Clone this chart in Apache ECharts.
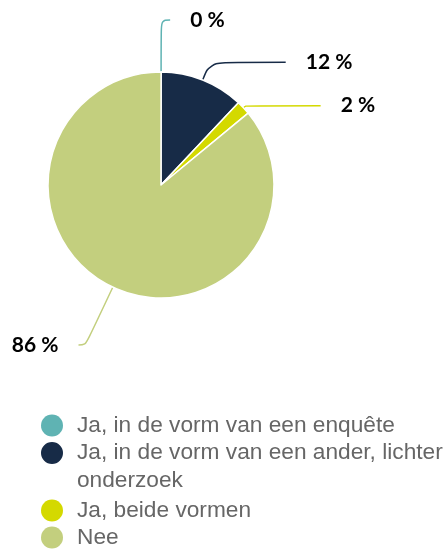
<!DOCTYPE html>
<html>
<head>
<meta charset="utf-8">
<script src="https://cdn.jsdelivr.net/npm/echarts@6/dist/echarts.min.js"></script>
<style>
    html, body { margin: 0; padding: 0; background: #fff; }
    #chart { width: 446px; height: 549px; }
</style>
</head>
<body>
<div id="chart"></div>
<script>
var categories = [
    'Ja, in de vorm van een enquête',
    'Ja, in de vorm van een ander, lichter onderzoek',
    'Ja, beide vormen',
    'Nee'
];
var percentages = [0, 12, 2, 86];
var colors = ['#5fb3b3', '#172b47', '#d4d900', '#c3cf7e'];

// per slice label line lengths, so labels sit where the reference has them
var lineLengths = [
    { length: 52, length2: 9 },
    { length: 19, length2: 76 },
    { length: 3, length2: 75 },
    { length: 64, length2: 7 }
];

// icon with the circle at the top so it lines up with the first text line
var topCircleIcon = 'path://M0,11A11,11,0,1,1,22,11A11,11,0,1,1,0,11ZM11,50L11.01,50Z';

var legendText = {
    color: '#666',
    fontFamily: '"Liberation Sans", Arial, sans-serif',
    fontSize: 22.7
};

// one legend per row, the rows do not share a regular step
var makeLegend = function (item, top, extra) {
    var legend = {
        orient: 'vertical',
        left: 41,
        top: top,
        padding: 0,
        itemWidth: 40,
        itemHeight: 22,
        icon: 'circle',
        itemStyle: { borderWidth: 0 },
        selectedMode: false,
        textStyle: legendText,
        data: [item]
    };
    return Object.assign(legend, extra || {});
};

var chart = echarts.init(document.getElementById('chart'), null, { renderer: 'canvas' });

var option = {
    animation: false,
    color: colors,
    legend: [
        makeLegend(categories[0], 414),
        makeLegend({ name: categories[1], icon: topCircleIcon }, 439, {
            itemHeight: 50,
            textStyle: Object.assign({}, legendText, {
                width: 392,
                overflow: 'break',
                lineHeight: 28
            })
        }),
        makeLegend(categories[2], 499),
        makeLegend(categories[3], 526)
    ],
    series: [{
        type: 'pie',
        center: [161, 185],
        radius: 113,
        // a hair off 90 so the 0 % slice puts its label on the right
        startAngle: 89.95,
        clockwise: true,
        avoidLabelOverlap: true,
        itemStyle: { borderColor: '#fff', borderWidth: 1.5 },
        label: {
            color: '#000',
            fontFamily: 'Lato, sans-serif',
            fontWeight: 'bold',
            fontSize: 21,
            distanceToLabelLine: 20,
            formatter: function (p) { return p.value + ' %'; }
        },
        labelLine: { smooth: 0.4, lineStyle: { width: 1.5 } },
        emphasis: { disabled: true },
        data: categories.map(function (name, i) {
            return {
                name: name,
                value: percentages[i],
                labelLine: lineLengths[i]
            };
        })
    }]
};

chart.setOption(option);
</script>
</body>
</html>
